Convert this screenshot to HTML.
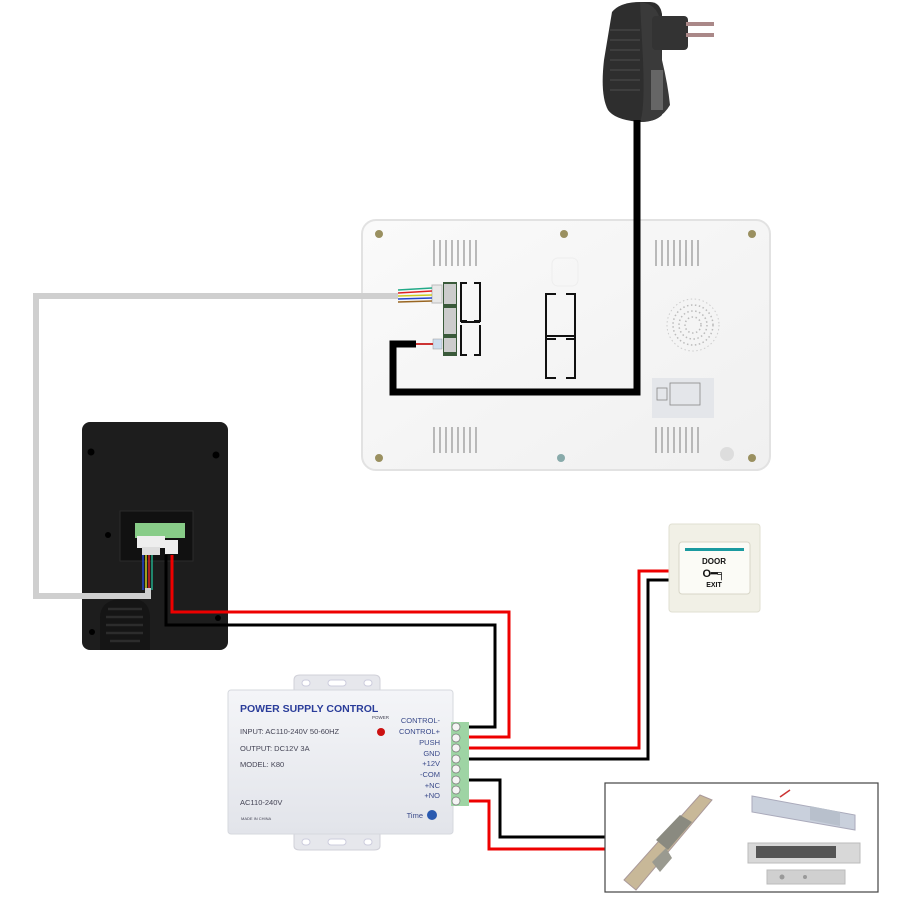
<!DOCTYPE html>
<html><head><meta charset="utf-8"><style>
html,body{margin:0;padding:0;background:#fff;}
svg{display:block;font-family:"Liberation Sans",sans-serif;}
</style></head><body>
<svg width="900" height="900" viewBox="0 0 900 900" xmlns="http://www.w3.org/2000/svg">
<rect width="900" height="900" fill="#fff"/>
<defs>
<linearGradient id="mon" x1="0" y1="0" x2="1" y2="1"><stop offset="0" stop-color="#fafafa"/><stop offset="1" stop-color="#f0f0f0"/></linearGradient>
<linearGradient id="ps" x1="0" y1="0" x2="0" y2="1"><stop offset="0" stop-color="#f4f5f8"/><stop offset="1" stop-color="#e2e4ea"/></linearGradient>
</defs>

<!-- Adapter -->
<g>
<path d="M612 12 Q620 2 640 2 L650 2 Q660 2 662 14 L662 115 Q655 122 640 122 Q615 120 608 110 Q600 95 604 60 Z" fill="#2e2e2e"/>
<path d="M640 2 Q657 4 660 20 L662 60 Q668 85 670 105 Q660 122 640 122 Q645 110 643 60 Z" fill="#3a3a3a"/>
<rect x="652" y="16" width="36" height="34" rx="4" fill="#333"/>
<rect x="686" y="22" width="28" height="4" fill="#a88"/>
<rect x="686" y="33" width="28" height="4" fill="#a88"/>
<rect x="651" y="70" width="12" height="40" fill="#666"/>
<g stroke="#444" stroke-width="1.5"><line x1="610" y1="30" x2="640" y2="30"/><line x1="610" y1="40" x2="640" y2="40"/><line x1="610" y1="50" x2="640" y2="50"/><line x1="610" y1="60" x2="640" y2="60"/><line x1="610" y1="70" x2="640" y2="70"/><line x1="610" y1="80" x2="640" y2="80"/><line x1="610" y1="90" x2="640" y2="90"/></g>
</g>

<!-- Monitor -->
<rect x="362" y="220" width="408" height="250" rx="14" fill="url(#mon)" stroke="#e2e2e2" stroke-width="2"/>
<g fill="#9a9060"><circle cx="379" cy="234" r="4"/><circle cx="564" cy="234" r="4"/><circle cx="752" cy="234" r="4"/><circle cx="379" cy="458" r="4"/><circle cx="752" cy="458" r="4"/></g>
<circle cx="561" cy="458" r="4" fill="#8aa"/>
<circle cx="727" cy="454" r="7" fill="#ddd"/>
<g stroke="#aaa" stroke-width="1.6">
<path d="M434 240v26M440 240v26M446 240v26M452 240v26M458 240v26M464 240v26M470 240v26M476 240v26"/>
<path d="M656 240v26M662 240v26M668 240v26M674 240v26M680 240v26M686 240v26M692 240v26M698 240v26"/>
<path d="M434 427v26M440 427v26M446 427v26M452 427v26M458 427v26M464 427v26M470 427v26M476 427v26"/>
<path d="M656 427v26M662 427v26M668 427v26M674 427v26M680 427v26M686 427v26M692 427v26M698 427v26"/>
</g>
<rect x="552" y="258" width="26" height="28" rx="6" fill="none" stroke="#eee"/>
<circle cx="693" cy="325" r="26" fill="none" stroke="#ccc" stroke-width="1" stroke-dasharray="1.5 2.5"/>
<circle cx="693" cy="325" r="20" fill="none" stroke="#bbb" stroke-width="1.5" stroke-dasharray="1.5 2.5"/>
<circle cx="693" cy="325" r="14" fill="none" stroke="#bbb" stroke-width="1.5" stroke-dasharray="1.5 2.5"/>
<circle cx="693" cy="325" r="8" fill="none" stroke="#bbb" stroke-width="1.5" stroke-dasharray="1.5 2.5"/>
<rect x="652" y="378" width="62" height="40" fill="#e4e6ea"/>
<g stroke="#888" stroke-width="0.8" fill="none"><rect x="657" y="388" width="10" height="12"/><rect x="670" y="383" width="30" height="22"/></g>
<!-- connectors -->
<rect x="443" y="282" width="14" height="74" fill="#3a5a3a"/>
<rect x="444" y="284" width="12" height="20" fill="#ccc"/>
<rect x="444" y="308" width="12" height="26" fill="#ccc"/>
<rect x="444" y="338" width="12" height="14" fill="#ccc"/>
<g fill="none" stroke="#111" stroke-width="2">
<path d="M467 283h-6v38h6M474 283h6v38h-6M461 322h19M467 355h-6v-30M474 355h6v-30"/>
<path d="M556 294h-10v45h10M566 294h9v45h-9M546 336h29M556 378h-10v-40M566 378h9v-40"/>
</g>
<rect x="432" y="285" width="10" height="18" fill="#e8e8e8" stroke="#bbb"/>
<g stroke-width="1.5"><line x1="398" y1="290" x2="432" y2="288" stroke="#2a8"/><line x1="398" y1="293" x2="432" y2="291" stroke="#d22"/><line x1="398" y1="296" x2="432" y2="295" stroke="#cc2"/><line x1="398" y1="299" x2="432" y2="298" stroke="#24c"/><line x1="398" y1="302" x2="432" y2="301" stroke="#962"/></g>
<rect x="433" y="339" width="9" height="10" fill="#cde" stroke="#999" stroke-width=".5"/>
<line x1="414" y1="344" x2="433" y2="344" stroke="#c33" stroke-width="2"/>

<polyline points="637,120 637,392 393,392 393,344 416,344" fill="none" stroke="#000" stroke-width="7"/>

<!-- Outdoor unit -->
<rect x="82" y="422" width="146" height="228" rx="8" fill="#1d1d1d"/>
<g fill="#000"><circle cx="91" cy="452" r="3.5"/><circle cx="216" cy="455" r="3.5"/><circle cx="108" cy="535" r="3"/><circle cx="92" cy="632" r="3"/><circle cx="218" cy="618" r="3"/></g>
<rect x="120" y="511" width="73" height="50" fill="#111" stroke="#2a2a2a"/>
<rect x="135" y="523" width="50" height="15" fill="#8c8"/>
<rect x="137" y="536" width="28" height="12" fill="#eee"/>
<rect x="142" y="547" width="18" height="8" fill="#ddd"/>
<rect x="165" y="540" width="13" height="14" fill="#eee"/>
<path d="M100 650 V618 Q100 598 128 598 Q150 598 150 618 V650 Z" fill="#151515"/>
<g stroke="#2c2c2c" stroke-width="2.5"><line x1="108" y1="609" x2="142" y2="609"/><line x1="106" y1="617" x2="143" y2="617"/><line x1="106" y1="625" x2="143" y2="625"/><line x1="106" y1="633" x2="143" y2="633"/><line x1="110" y1="641" x2="140" y2="641"/></g>
<g stroke-width="1.5"><line x1="143" y1="555" x2="143" y2="590" stroke="#24c"/><line x1="146" y1="555" x2="146" y2="590" stroke="#cc2"/><line x1="149" y1="555" x2="149" y2="590" stroke="#d22"/><line x1="152" y1="555" x2="152" y2="590" stroke="#2a8"/></g>

<!-- Gray cable (on top of unit) -->
<polyline points="398,296 36,296 36,596 148,596 148,588" fill="none" stroke="#cfcfcf" stroke-width="6"/>

<!-- Wires -->
<g fill="none" stroke-width="3">
<polyline points="172,555 172,612 509,612 509,737 458,737" stroke="#e00"/>
<polyline points="166,555 166,625 495,625 495,727 458,727" stroke="#000"/>
<polyline points="458,748 639,748 639,571 670,571" stroke="#e00"/>
<polyline points="458,759 648,759 648,580 670,580" stroke="#000"/>
<polyline points="458,780 500,780 500,837 606,837" stroke="#000"/>
<polyline points="458,801 489,801 489,849 606,849" stroke="#e00"/>
</g>

<!-- Power supply -->
<path d="M294 690 V680 Q294 675 300 675 H374 Q380 675 380 680 V690 Z" fill="#e6e7ec" stroke="#d0d0d8"/>
<path d="M294 833 V846 Q294 850 300 850 H374 Q380 850 380 846 V833 Z" fill="#e6e7ec" stroke="#d0d0d8"/>
<g fill="#fff" stroke="#ccd"><rect x="302" y="680" width="8" height="6" rx="3"/><rect x="328" y="680" width="18" height="6" rx="3"/><rect x="364" y="680" width="8" height="6" rx="3"/><rect x="302" y="839" width="8" height="6" rx="3"/><rect x="328" y="839" width="18" height="6" rx="3"/><rect x="364" y="839" width="8" height="6" rx="3"/></g>
<rect x="228" y="690" width="225" height="144" rx="3" fill="url(#ps)" stroke="#d6d8de"/>
<text x="240" y="712" font-size="10.5" font-weight="bold" fill="#2a3d9a">POWER SUPPLY CONTROL</text>
<text x="240" y="734" font-size="7.5" fill="#445">INPUT: AC110-240V  50-60HZ</text>
<text x="240" y="751" font-size="7.5" fill="#445">OUTPUT: DC12V  3A</text>
<text x="240" y="767" font-size="7.5" fill="#445">MODEL: K80</text>
<text x="240" y="805" font-size="7.5" fill="#445">AC110-240V</text>
<text x="241" y="820" font-size="4" fill="#445">MADE IN CHINA</text>
<text x="372" y="719" font-size="4.5" fill="#445">POWER</text>
<circle cx="381" cy="732" r="4" fill="#c11"/>
<g font-size="7.5" fill="#3a4a8a" text-anchor="end">
<text x="440" y="723">CONTROL-</text><text x="440" y="734">CONTROL+</text><text x="440" y="745">PUSH</text><text x="440" y="756">GND</text><text x="440" y="766">+12V</text><text x="440" y="777">-COM</text><text x="440" y="788">+NC</text><text x="440" y="798">+NO</text>
<text x="423" y="818">Time</text>
</g>
<circle cx="432" cy="815" r="5" fill="#2a5ab0"/>
<rect x="451" y="722" width="18" height="84" fill="#9ed4a4"/>
<g fill="#f4f4f4" stroke="#777" stroke-width=".7"><circle cx="456" cy="727" r="4"/><circle cx="456" cy="738" r="4"/><circle cx="456" cy="748" r="4"/><circle cx="456" cy="759" r="4"/><circle cx="456" cy="769" r="4"/><circle cx="456" cy="780" r="4"/><circle cx="456" cy="790" r="4"/><circle cx="456" cy="801" r="4"/></g>

<!-- Door exit button -->
<rect x="669" y="524" width="91" height="88" rx="3" fill="#f1f0e6" stroke="#e0dfd2"/>
<rect x="679" y="542" width="71" height="52" rx="3" fill="#fbfbf6" stroke="#d8d6c8"/>
<rect x="685" y="548" width="59" height="3" fill="#1a9aa0"/>
<text x="714" y="564" font-size="8" font-weight="bold" text-anchor="middle" fill="#111">DOOR</text>
<text x="714" y="577" font-size="11" font-weight="bold" text-anchor="middle" fill="#111">O━╕</text>
<text x="714" y="587" font-size="7" font-weight="bold" text-anchor="middle" fill="#111">EXIT</text>

<!-- Lock box -->
<rect x="605" y="783" width="273" height="109" fill="#fff" stroke="#444" stroke-width="1.2"/>
<path d="M624 880 L700 795 L712 800 L636 890 Z" fill="#c8b898" stroke="#a99"/>
<path d="M656 840 L680 815 L692 822 L668 850 Z" fill="#8a8a80"/>
<path d="M652 862 L666 848 L672 858 L660 872 Z" fill="#9a9a90"/>
<path d="M752 796 L855 815 L855 830 L752 812 Z" fill="#c9d0dc" stroke="#aab"/>
<path d="M810 806 L840 812 L840 826 L810 820 Z" fill="#b8c0cc"/>
<line x1="780" y1="797" x2="790" y2="790" stroke="#c33" stroke-width="1.5"/>
<rect x="748" y="843" width="112" height="20" fill="#d8d8d8" stroke="#bbb"/>
<rect x="756" y="846" width="80" height="12" fill="#555"/>
<rect x="767" y="870" width="78" height="14" fill="#d0d0d0" stroke="#bbb"/>
<circle cx="782" cy="877" r="2.5" fill="#999"/><circle cx="805" cy="877" r="2" fill="#999"/>
</svg>
</body></html>
